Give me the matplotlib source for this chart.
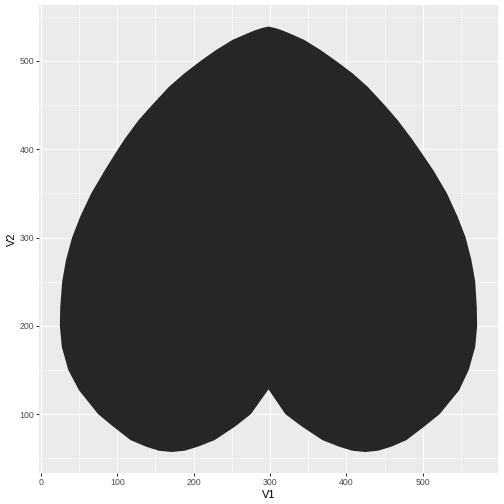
import matplotlib
matplotlib.use("Agg")
import matplotlib.pyplot as plt

plt.rcParams['font.family'] = ['Liberation Sans', 'DejaVu Sans']

# contorno del cuore (V1, V2): punta in alto -> lato sinistro -> lobo sx
# -> cuspide centrale -> lobo dx -> lato destro -> ritorno alla punta
v1 = [298, 290, 281, 271, 251, 229.5, 209, 188, 168, 145.5, 128, 110.5, 101, 84, 66,
      51.5, 41, 33, 28, 25.5, 25, 27.5, 36, 50, 75, 94.5, 117.5, 138, 154.5, 171.5,
      188.5, 205.5, 227.5, 254.5, 275, 286.5, 298,
      309, 320, 341.5, 368.5, 390.5, 407.5, 424.5,
      441.5, 458.5, 478.5, 502, 522, 547.5, 560, 568.5, 571, 570.5, 568.5, 563.5, 556,
      545.5, 531.5, 513.5, 495, 485, 467, 450, 427.5, 408, 386.5, 366, 344.5, 325,
      315, 306]
v2 = [539, 537.5, 535, 531.5, 524, 512.5, 500, 486, 471, 450, 433, 412.5, 400, 376.5, 350,
      323.5, 300, 274.5, 250, 221.5, 200, 176, 150, 127, 100, 86, 70.5, 63, 58.5, 57,
      58.5, 63, 70.5, 86, 100, 114, 128,
      114, 100, 86, 70.5, 63, 58.5, 57,
      58.5, 63, 70.5, 86, 100, 127, 150, 176, 200, 221.5, 250, 274.5, 300,
      323.5, 350, 376.5, 400, 412.5, 433, 450, 471, 486, 500, 512.5, 524, 531.5,
      535, 537.5]

x_ticks = [0, 100, 200, 300, 400, 500]
y_ticks = [100, 200, 300, 400, 500]
x_minor = [50, 150, 250, 350, 450, 550]
y_minor = [50, 150, 250, 350, 450, 550]

fig = plt.figure(figsize=(7, 7), dpi=72)
ax = fig.add_axes([39 / 504, 1 - 473.3 / 504, (498 - 39) / 504, (473.3 - 5.3) / 504])

ax.fill(v1, v2, color='#262626', lw=0, zorder=3)

# espansione 5% come ggplot
xr = max(v1) - min(v1)
yr = max(v2) - min(v2)
ax.set_xlim(min(v1) - 0.05 * xr, max(v1) + 0.05 * xr)
ax.set_ylim(min(v2) - 0.05 * yr, max(v2) + 0.05 * yr)

ax.set_facecolor('#EBEBEB')
ax.set_axisbelow(True)
for s in ax.spines.values():
    s.set_visible(False)

ax.set_xticks(x_ticks)
ax.set_yticks(y_ticks)
ax.set_xticks(x_minor, minor=True)
ax.set_yticks(y_minor, minor=True)
ax.grid(which='major', color='white', lw=1.1)
ax.grid(which='minor', color='white', lw=0.55)
ax.tick_params(which='major', length=2.75, width=1.0, color='#333333',
               labelcolor='#4D4D4D', labelsize=8.8, pad=2.2)
ax.tick_params(which='minor', length=0)

ax.set_xlabel("V1", fontsize=11, color='black', labelpad=2.5)
ax.set_ylabel("V2", fontsize=11, color='black', labelpad=2.5)

fig.savefig("out.png", dpi=72)
